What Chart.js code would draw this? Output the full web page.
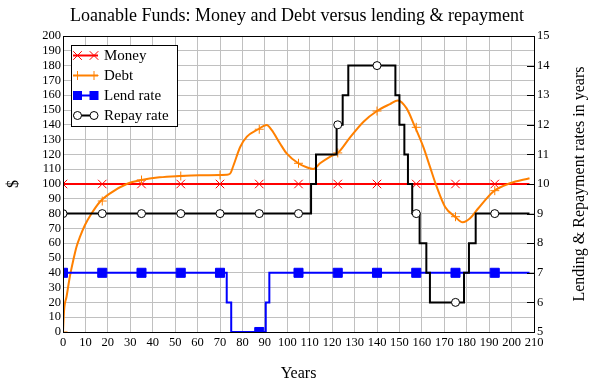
<!DOCTYPE html>
<html>
<head>
<meta charset="utf-8">
<script src="https://cdn.jsdelivr.net/npm/chart.js@4.4.1/dist/chart.umd.min.js"></script>
<style>
  html, body { margin: 0; padding: 0; background: #fff; }
  #wrap { width: 592px; height: 385px; position: relative; }
</style>
</head>
<body>
<div id="wrap"><canvas id="chart"></canvas></div>
<script>
// marker positions (years)
const markerYears = [0, 17.5, 35, 52.5, 70, 87.5, 105, 122.5, 140, 157.5, 175, 192.5];

const moneyYears = [0, 208];
const moneyValues = [100, 100];
const moneyMarks = [100, 100, 100, 100, 100, 100, 100, 100, 100, 100, 100, 100];

const debtYears = [0, 0.5, 1.6, 3, 4.6, 6, 7.6, 9.8, 12.8, 16.5, 21, 28.4, 35, 43, 52, 61, 73, 74.5, 76, 79, 82, 87, 90.8, 93, 96.7, 99.7, 104.9, 108.6, 111.6, 114.6, 119, 122.7, 128, 134, 140, 145.8, 149.3, 153.2, 156.9, 160.6, 163.6, 166.6, 170.3, 174.8, 178.2, 181.5, 185.2, 191.8, 199.3, 208];
const debtValues = [0, 15, 24, 37, 48.6, 57.5, 64.4, 72.3, 80.2, 88, 93.7, 100, 102.7, 104.5, 105.4, 105.9, 106.3, 107, 112.5, 125, 132, 137, 139.9, 136.5, 127.5, 120.7, 114, 111.3, 110.1, 114, 118.4, 121.2, 131.5, 142.1, 149.3, 154, 156.5, 151.1, 138.7, 125.2, 111.7, 98.2, 84.7, 77.9, 74.1, 76.8, 83.6, 94.8, 100.5, 103.9];
const debtMarks = [0, 88.5, 102.7, 105.4, 106.1, 137, 114, 121, 149.3, 138.3, 77.9, 95.5];

// rates plotted on the $ scale (rate = 5 + value / 20)
const lendYears = [0, 73, 75, 90.4, 92, 208];
const lendValues = [40, 20, 0, 20, 40, 40];
const lendMarks = [40, 40, 40, 40, 40, 0, 40, 40, 40, 40, 40, 40];

const repayYears = [0, 110.6, 112.8, 122, 124.7, 127.2, 148.2, 150, 152.2, 153.8, 155.7, 159, 162, 163.6, 178.8, 181, 184, 208];
const repayValues = [80, 100, 120, 140, 160, 180, 160, 140, 120, 100, 80, 60, 40, 20, 40, 60, 80, 80];
const repayMarks = [80, 80, 80, 80, 80, 80, 80, 140, 180, 80, 20, 80];

const legendItems = [
  { label: 'Money', color: '#ff0000', mark: 'crossRot' },
  { label: 'Debt', color: '#ff8000', mark: 'cross' },
  { label: 'Lend rate', color: '#0000ff', mark: 'rect' },
  { label: 'Repay rate', color: '#000000', mark: 'circle' }
];

const serif = '"Liberation Serif", "Times New Roman", serif';
Chart.defaults.font.family = serif;
Chart.defaults.font.size = 12;
Chart.defaults.color = '#000';
const tickFont = { family: serif, size: 12.5 };

// value arrays hold the new level from each change year on; 'before' step mode
// keeps the previous level up to the next change year
const steps = (xs, ys) => xs.map((x, i) => ({ x: x, y: ys[i] }));
const pts = (xs, ys) => xs.map((x, i) => ({ x: x, y: ys[i] }));

function drawMark(ctx, mark, color, x, y) {
  ctx.save();
  ctx.lineWidth = 1;
  ctx.strokeStyle = color;
  ctx.fillStyle = color;
  ctx.beginPath();
  if (mark === 'crossRot') {
    const o = 4.3;
    ctx.moveTo(x - o, y - o); ctx.lineTo(x + o, y + o);
    ctx.moveTo(x - o, y + o); ctx.lineTo(x + o, y - o);
    ctx.stroke();
  } else if (mark === 'cross') {
    const o = 4.5;
    ctx.moveTo(x - o, y); ctx.lineTo(x + o, y);
    ctx.moveTo(x, y - o); ctx.lineTo(x, y + o);
    ctx.stroke();
  } else if (mark === 'rect') {
    ctx.fillRect(x - 4.5, y - 4.5, 9, 9);
  } else {
    ctx.arc(x, y, 4, 0, Math.PI * 2);
    ctx.fillStyle = '#fff';
    ctx.fill();
    ctx.stroke();
  }
  ctx.restore();
}

const decor = {
  id: 'decor',
  afterDatasetsDraw(chart) {
    const { ctx, chartArea: a, scales } = chart;
    ctx.save();
    // frame
    ctx.strokeStyle = '#000';
    ctx.lineWidth = 1;
    ctx.strokeRect(a.left + 0.5, a.top + 0.5, a.right - a.left, a.bottom - a.top);
    // inner ticks on the right axis
    ctx.beginPath();
    scales.y2.ticks.forEach(t => {
      const y = Math.round(scales.y2.getPixelForValue(t.value)) + 0.5;
      ctx.moveTo(a.right - 7, y);
      ctx.lineTo(a.right, y);
    });
    ctx.stroke();

    // legend
    const bx = 71.5, by = 45.5, bw = 106, bh = 81;
    ctx.fillStyle = '#fff';
    ctx.fillRect(bx, by, bw, bh);
    ctx.strokeRect(bx, by, bw, bh);
    ctx.font = '15px ' + serif;
    ctx.textBaseline = 'middle';
    ctx.textAlign = 'left';
    legendItems.forEach((it, i) => {
      const y = 55.5 + i * 20;
      ctx.strokeStyle = it.color;
      ctx.lineWidth = 2;
      ctx.beginPath();
      ctx.moveTo(73, y);
      ctx.lineTo(98, y);
      ctx.stroke();
      drawMark(ctx, it.mark, it.color, 77.5, y);
      drawMark(ctx, it.mark, it.color, 94, y);
      ctx.fillStyle = '#000';
      ctx.fillText(it.label, 104, y + 1);
    });

    // titles
    ctx.fillStyle = '#000';
    ctx.textAlign = 'center';
    ctx.font = '18px ' + serif;
    ctx.fillText('Loanable Funds: Money and Debt versus lending & repayment', 297, 16);
    ctx.font = '16px ' + serif;
    ctx.fillText('Years', (a.left + a.right) / 2, 374);
    ctx.save();
    ctx.translate(14, (a.top + a.bottom) / 2);
    ctx.rotate(-Math.PI / 2);
    ctx.fillText('$', 0, 0);
    ctx.restore();
    ctx.save();
    ctx.translate(580, (a.top + a.bottom) / 2);
    ctx.rotate(-Math.PI / 2);
    ctx.fillText('Lending & Repayment rates in years', 0, 0);
    ctx.restore();
    ctx.restore();
  }
};

const lineBase = { pointRadius: 0, borderWidth: 2, fill: false };
const markBase = { showLine: false, pointBorderWidth: 1 };

new Chart(document.getElementById('chart'), {
  type: 'line',
  data: {
    datasets: [
      { ...lineBase, label: 'Money', data: pts(moneyYears, moneyValues), borderColor: '#ff0000', order: 8 },
      { ...markBase, label: 'Money marks', data: pts(markerYears, moneyMarks), pointStyle: 'crossRot', pointRadius: 6, pointBorderColor: '#ff0000', borderColor: '#ff0000', order: 7 },
      { ...lineBase, label: 'Debt', data: pts(debtYears, debtValues), borderColor: '#ff8000', cubicInterpolationMode: 'monotone', order: 6 },
      { ...markBase, label: 'Debt marks', data: pts(markerYears, debtMarks), pointStyle: 'cross', pointRadius: 4.5, pointBorderColor: '#ff8000', borderColor: '#ff8000', order: 5 },
      { ...lineBase, label: 'Lend rate', data: steps(lendYears, lendValues), borderColor: '#0000ff', stepped: 'before', order: 4 },
      { ...markBase, label: 'Lend marks', data: pts(markerYears, lendMarks), pointStyle: 'rect', pointRadius: 6.4, pointBackgroundColor: '#0000ff', pointBorderColor: '#0000ff', borderColor: '#0000ff', order: 3 },
      { ...lineBase, label: 'Repay rate', data: steps(repayYears, repayValues), borderColor: '#000000', stepped: 'before', order: 2 },
      { ...markBase, label: 'Repay marks', data: pts(markerYears, repayMarks), pointStyle: 'circle', pointRadius: 4, pointBackgroundColor: '#ffffff', pointBorderColor: '#000000', borderColor: '#000000', order: 1 }
    ]
  },
  options: {
    responsive: true,
    maintainAspectRatio: false,
    animation: false,
    events: [],
    layout: { padding: { top: 36, left: 0, right: 0, bottom: 0 } },
    plugins: {
      legend: { display: false },
      title: { display: false },
      tooltip: { enabled: false }
    },
    scales: {
      x: {
        type: 'linear',
        min: 0, max: 210,
        ticks: { stepSize: 10, autoSkip: false, maxRotation: 0, padding: 3, font: tickFont },
        grid: { color: '#c0c0c0', drawTicks: false },
        border: { display: false },
        afterFit: s => { s.height = 53; }
      },
      y: {
        min: 0, max: 200,
        ticks: { stepSize: 10, autoSkip: false, padding: 2, font: tickFont },
        grid: { color: '#c0c0c0', drawTicks: false },
        border: { display: false },
        afterFit: s => { s.width = 63; }
      },
      y2: {
        position: 'right',
        min: 5, max: 15,
        ticks: { stepSize: 1, autoSkip: false, padding: 3, font: tickFont },
        grid: { display: false, drawTicks: false },
        border: { display: false },
        afterFit: s => { s.width = 58; }
      }
    }
  },
  plugins: [decor]
});
</script>
</body>
</html>
